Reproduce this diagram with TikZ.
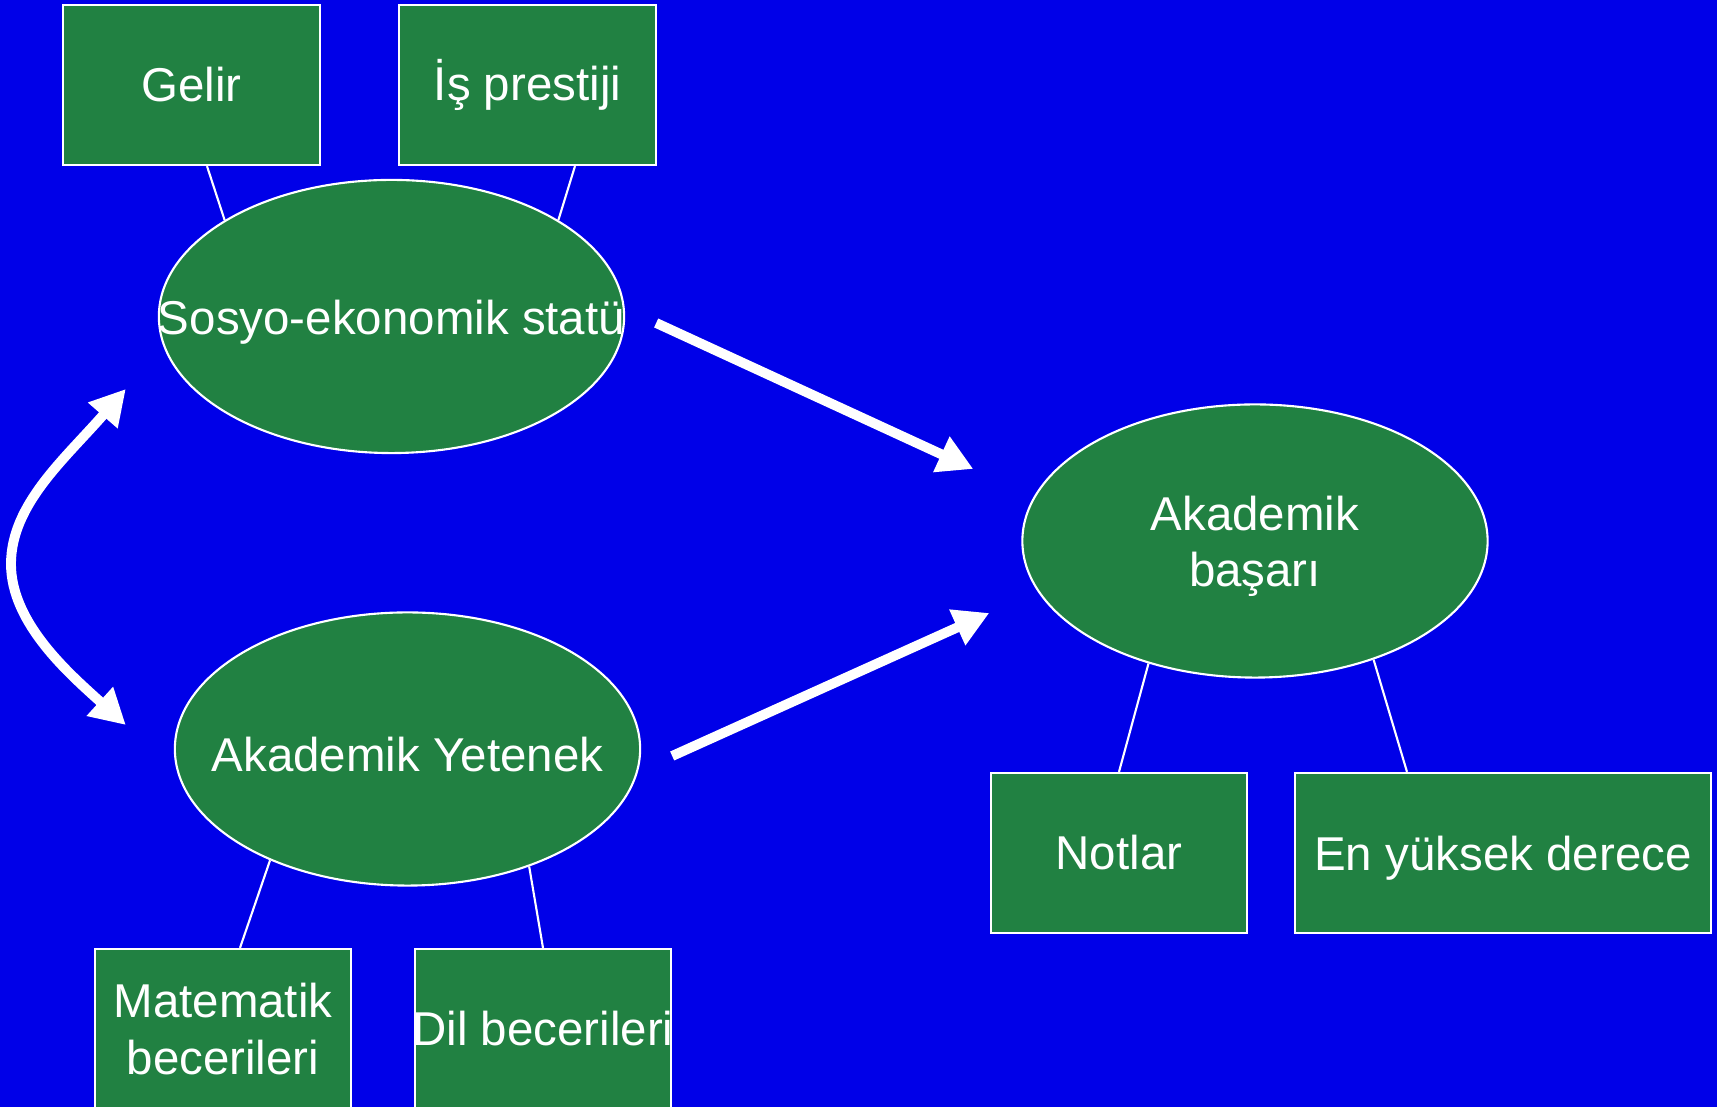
\documentclass[tikz,border=0pt]{standalone}
\usepackage{fontspec}
\setmainfont{Liberation Sans}
\usetikzlibrary{
  shapes.geometric,
  arrows.meta
}
\definecolor{slideblue}{RGB}{0,0,232}
\definecolor{boxgreen}{RGB}{33,129,66}
\tikzset{
  kutu/.style={
    draw=white,
    line width=0.6pt,
    fill=boxgreen,
    text=white,
    minimum width=2.56cm,
    minimum height=1.6cm,
    inner sep=0pt,
    align=center,
    font=\fontsize{13.5}{16}\selectfont
  },
  oval/.style={
    ellipse,
    draw=white,
    line width=0.6pt,
    fill=boxgreen,
    minimum width=4.65cm,
    minimum height=2.73cm,
    inner sep=0pt
  },
  ovaltext/.style={
    label={[text=white, align=center, yshift=-1.5pt, font=\fontsize{13.5}{16}\selectfont]center:#1}
  },
  bag/.style={draw=white, line width=0.6pt},
  okbig/.style={draw=white, line width=2.8pt, -{Triangle[length=10pt,width=10.5pt]}}
}

\begin{document}
\begin{tikzpicture}[x=0.01cm, y=-0.01cm]
  \path[use as bounding box, fill=slideblue] (0,0) rectangle (1717,1107);
  \clip (0,0) rectangle (1717,1107);

  \node[kutu] (gelir) at (191.5,85) {Gelir};
  \node[kutu] (prestij) at (527.5,85) {İş prestiji};
  \node[oval, ovaltext={Sosyo-ekonomik statü}] (ses) at (391.5,316.5) {};
  \node[oval, ovaltext={Akademik Yetenek}] (yetenek) at (407.5,749) {};
  \node[oval, ovaltext={Akademik\\başarı}] (basari) at (1255,541) {};
  \node[kutu] (notlar) at (1119,853) {Notlar};
  \node[kutu, minimum width=4.16cm, text depth=0pt] (derece) at (1503,853) {En yüksek derece};
  \node[kutu] (matematik) at (223,1029) {Matematik\\becerileri};
  \node[kutu, inner xsep=-1pt] (dil) at (543,1029) {Dil becerileri};

  \draw[bag] ([shift={(15.5,0)}]gelir.south) -- (ses.150);
  \draw[bag] ([shift={(47.5,0)}]prestij.south) -- (ses.30);
  \draw[bag] (basari.229) -- (notlar.north);
  \draw[bag] (basari.315) -- ([shift={(-96,0)}]derece.north);
  \draw[bag] (yetenek.219) -- ([shift={(17,0)}]matematik.north);
  \draw[bag] (yetenek.316) -- (dil.north);

  \draw[okbig] ([shift={(31,6.5)}]ses.east) -- ([shift={(-48,-72)}]basari.west);
  \draw[okbig] ([shift={(31,7)}]yetenek.east) -- ([shift={(-32,72)}]basari.west);

  % iki yonlu egri ok
  \coordinate (ustuc) at ([shift={(-32,72.5)}]ses.west);
  \coordinate (altuc) at ([shift={(-48,-24)}]yetenek.west);
  \draw[okbig, {Triangle[length=10pt,width=10.5pt]}-{Triangle[length=10pt,width=10.5pt]}]
    (ustuc) .. controls +(-60,69) and +(0,-60) .. (11,564)
    .. controls +(0,60) and +(-55,-50) .. (altuc);
\end{tikzpicture}
\end{document}
